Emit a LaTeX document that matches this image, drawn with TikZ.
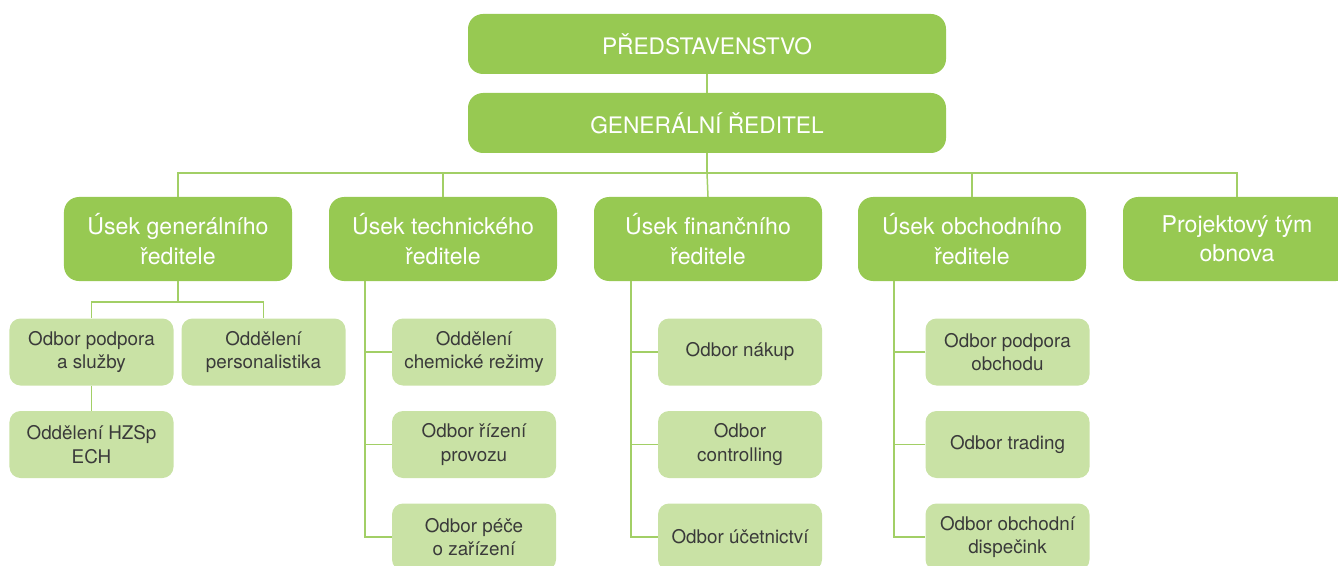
\documentclass[tikz,border=0pt]{standalone}
\usepackage{fontspec}
\setmainfont{TeX Gyre Heros}
\usetikzlibrary{calc}
\definecolor{hlavni}{HTML}{97C952}
\definecolor{svetla}{HTML}{C9E2A5}
\definecolor{cara}{HTML}{A2CF66}
\definecolor{pismo}{HTML}{3A3A3A}
\tikzset{
	vedeni/.style={fill=hlavni, rounded corners=15bp, minimum width=478bp, minimum height=60bp, text=white, font=\fontsize{22.8}{29}\selectfont},
	usek/.style={fill=hlavni, rounded corners=15bp, minimum width=228bp, minimum height=84bp, text=white, align=center, font=\fontsize{23.2}{29.5}\selectfont},
	odbor/.style={fill=svetla, rounded corners=11bp, minimum width=164bp, minimum height=67bp, text=pismo, align=center, font=\fontsize{18.9}{23.5}\selectfont},
	spoj/.style={draw=cara, line width=1.5bp}
}

\begin{document}
\begin{tikzpicture}[x=1bp, y=-1bp]
			%%%%% START %%%%%
			\useasboundingbox (0, 0) rectangle (1338, 566);
			
			% spoje pod boxy
			\coordinate (sbernice) at (707, 173);
			\coordinate (tkmen) at (365, 281);
			\coordinate (fkmen) at (631, 281);
			\coordinate (okmen) at (894, 281);
			
			\node[vedeni] (pred) at (707, 44) {PŘEDSTAVENSTVO};
			\node[vedeni] (gr) at (707, 123) {GENERÁLNÍ ŘEDITEL};
			
			\node[usek] (ugr) at (178, 239) {Úsek generálního\\ředitele};
			\node[usek] (utr) at (443, 239) {Úsek technického\\ředitele};
			\node[usek] (ufr) at (708, 239) {Úsek finančního\\ředitele};
			\node[usek] (uor) at (972, 239) {Úsek obchodního\\ředitele};
			\node[usek] (pto) at (1237, 239) {Projektový tým\\obnova};
			
			\node[odbor] (ops) at (91.5, 352) {Odbor podpora\\a služby};
			\node[odbor] (ope) at (263.5, 352) {Oddělení\\personalistika};
			\node[odbor] (ohz) at (91.5, 444.5) {Oddělení HZSp\\ECH};
			
			\node[odbor] (tch) at (474, 352) {Oddělení\\chemické režimy};
			\node[odbor] (tpr) at (474, 444.5) {Odbor řízení\\provozu};
			\node[odbor] (tpz) at (474, 537) {Odbor péče\\o zařízení};
			
			\node[odbor] (fna) at (740, 352) {Odbor nákup};
			\node[odbor] (fco) at (740, 444.5) {Odbor\\controlling};
			\node[odbor] (fuc) at (740, 537) {Odbor účetnictví};
			
			\node[odbor] (opo) at (1007.5, 352) {Odbor podpora\\obchodu};
			\node[odbor] (otr) at (1007.5, 444.5) {Odbor trading};
			\node[odbor] (odi) at (1007.5, 537) {Odbor obchodní\\dispečink};
			
			% vedeni
			\draw[spoj] (pred) -- (gr);
			\draw[spoj] (gr) -- (sbernice);
			\draw[spoj] (ugr.north) |- (sbernice) -| (pto.north);
			\draw[spoj] (utr.north) -- (utr.north |- sbernice);
			\draw[spoj] (ufr.north) -- (sbernice);
			\draw[spoj] (uor.north) -- (uor.north |- sbernice);
			
			% usek generalniho reditele
			\draw[spoj] (ugr.south) -- ($(ugr.south)+(0, 21)$);
			\draw[spoj] (ops.north) |- ($(ugr.south)+(0, 21)$) -| (ope.north);
			\draw[spoj] (ops) -- (ohz);
			
			% usek technickeho reditele
			\draw[spoj] (tkmen) |- (tpz.west);
			\draw[spoj] (tch.west) -- (tch.west -| tkmen);
			\draw[spoj] (tpr.west) -- (tpr.west -| tkmen);
			
			% usek financniho reditele
			\draw[spoj] (fkmen) |- (fuc.west);
			\draw[spoj] (fna.west) -- (fna.west -| fkmen);
			\draw[spoj] (fco.west) -- (fco.west -| fkmen);
			
			% usek obchodniho reditele
			\draw[spoj] (okmen) |- (odi.west);
			\draw[spoj] (opo.west) -- (opo.west -| okmen);
			\draw[spoj] (otr.west) -- (otr.west -| okmen);
			%%%%% END %%%%%
\end{tikzpicture}
\end{document}
